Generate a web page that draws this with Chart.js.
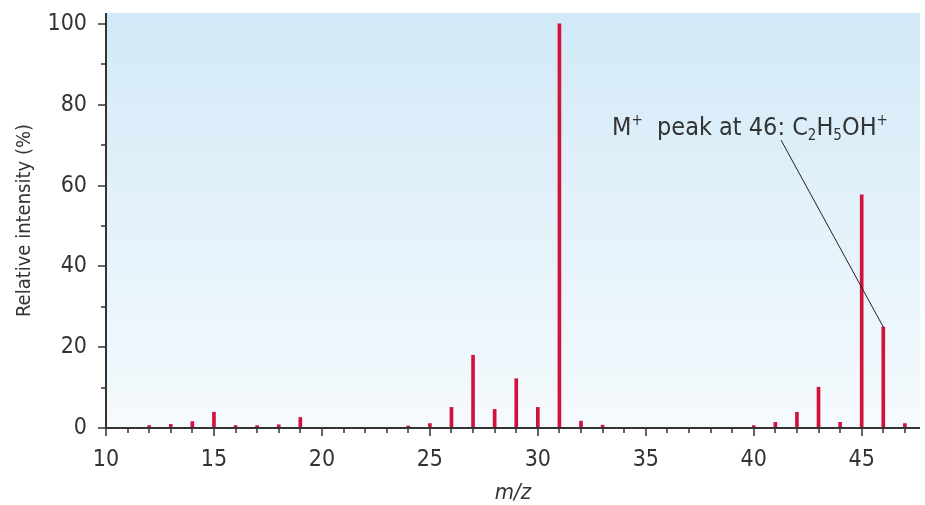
<!DOCTYPE html>
<html>
<head>
<meta charset="utf-8">
<script src="https://cdn.jsdelivr.net/npm/chart.js@4"></script>
<style>
  body { margin: 0; background: #fff; }
  canvas { display: block; }
</style>
</head>
<body>
<canvas id="chart" width="925" height="505"></canvas>
<script>
// mass spectrum of ethanol
const massValues = [12, 13, 14, 15, 16, 17, 18, 19, 24, 25, 26, 27, 28, 29, 30, 31, 32, 33, 40, 41, 42, 43, 44, 45, 46, 47];
const intensities = [0.6, 0.9, 1.6, 3.9, 0.6, 0.6, 0.8, 2.6, 0.5, 1.1, 5.1, 18, 4.6, 12.2, 5.1, 100, 1.7, 0.7, 0.6, 1.4, 3.9, 10.1, 1.4, 57.7, 25, 1.1];
const yTicks = [0, 20, 40, 60, 80, 100];
const xTicks = [10, 15, 20, 25, 30, 35, 40, 45];

const FONT = "'DejaVu Sans Condensed', 'Liberation Sans', sans-serif";
const textColor = "#333";

const spectrum = massValues.map((m, i) => ({ x: m, y: intensities[i] }));

const backgroundPlugin = {
    id: "bg",
    beforeDraw(chart) {
        const { ctx, chartArea } = chart;
        const g = ctx.createLinearGradient(0, chartArea.top, 0, chartArea.bottom);
        g.addColorStop(0, "#d2e9f7");
        g.addColorStop(1, "#f5fafd");
        ctx.save();
        ctx.fillStyle = g;
        ctx.fillRect(chartArea.left, chartArea.top, chartArea.right - chartArea.left, chartArea.bottom - chartArea.top);
        ctx.restore();
    }
};

const axesPlugin = {
    id: "axes",
    afterDraw(chart) {
        const { ctx, chartArea, scales } = chart;
        ctx.save();
        ctx.strokeStyle = "#333";
        ctx.lineWidth = 2;
        ctx.beginPath();
        ctx.moveTo(chartArea.left, chartArea.top);
        ctx.lineTo(chartArea.left, chartArea.bottom);
        ctx.lineTo(chartArea.right, chartArea.bottom);
        ctx.stroke();
        ctx.lineWidth = 1.5;
        ctx.beginPath();
        for (let v = 0; v <= 100; v += 10) {
            const y = Math.round(scales.y.getPixelForValue(v));
            const len = v % 20 === 0 ? 8 : 5;
            ctx.moveTo(chartArea.left, y);
            ctx.lineTo(chartArea.left - len, y);
        }
        for (let v = 10; v <= 47; v++) {
            const x = Math.round(scales.x.getPixelForValue(v));
            const len = v % 5 === 0 ? 8 : 5;
            ctx.moveTo(x, chartArea.bottom);
            ctx.lineTo(x, chartArea.bottom + len);
        }
        ctx.stroke();
        ctx.restore();
    }
};

// label for the molecular ion peak
const annotationPlugin = {
    id: "note",
    afterDraw(chart) {
        const { ctx, scales } = chart;
        const parts = [
            ["M", 0, 25], ["+", -10, 15], ["  peak at 46: C", 0, 25], ["2", 5, 15],
            ["H", 0, 25], ["5", 5, 15], ["OH", 0, 25], ["+", -10, 15]
        ];
        ctx.save();
        ctx.fillStyle = textColor;
        ctx.textBaseline = "alphabetic";
        let x = 612;
        const base = 135;
        for (const [t, dy, size] of parts) {
            ctx.font = size + "px " + FONT;
            ctx.fillText(t, x, base + dy);
            x += ctx.measureText(t).width;
        }
        const px = scales.x.getPixelForValue(46);
        const py = scales.y.getPixelForValue(25);
        ctx.strokeStyle = "#222";
        ctx.lineWidth = 1;
        ctx.beginPath();
        ctx.moveTo(781, 140);
        ctx.lineTo(px, py);
        ctx.stroke();
        ctx.restore();
    }
};

new Chart(document.getElementById("chart"), {
    type: "bar",
    data: {
        datasets: [{
            data: spectrum,
            backgroundColor: "#d3123c",
            barThickness: 3,
            borderWidth: 0
        }]
    },
    options: {
        responsive: false,
        animation: false,
        layout: { padding: { top: 13, right: 5, left: 0, bottom: 0 } },
        plugins: { legend: { display: false }, tooltip: { enabled: false } },
        scales: {
            x: {
                type: "linear",
                offset: false,
                min: 10,
                max: 47.7,
                afterFit: s => { s.height = 77; s.paddingLeft = 0; s.paddingRight = 0; },
                afterBuildTicks: s => { s.ticks = xTicks.map(v => ({ value: v })); },
                grid: { display: false },
                border: { display: false },
                ticks: { font: { family: FONT, size: 23 }, color: textColor, padding: 10 },
                title: {
                    display: true,
                    text: "m/z",
                    color: textColor,
                    font: { family: FONT, size: 22, style: "italic", lineHeight: 1 },
                    padding: { top: 0, bottom: 1 }
                }
            },
            y: {
                min: 0,
                max: 102.7,
                afterFit: s => { s.width = 106; s.paddingTop = 0; s.paddingBottom = 0; },
                afterBuildTicks: s => { s.ticks = yTicks.map(v => ({ value: v })); },
                grid: { display: false },
                border: { display: false },
                ticks: { font: { family: FONT, size: 23 }, color: textColor, padding: 11 },
                title: {
                    display: true,
                    text: "Relative intensity (%)",
                    color: textColor,
                    font: { family: FONT, size: 20, lineHeight: 1 },
                    padding: { top: 15, bottom: 0 }
                }
            }
        }
    },
    plugins: [backgroundPlugin, axesPlugin, annotationPlugin]
});
</script>
</body>
</html>
